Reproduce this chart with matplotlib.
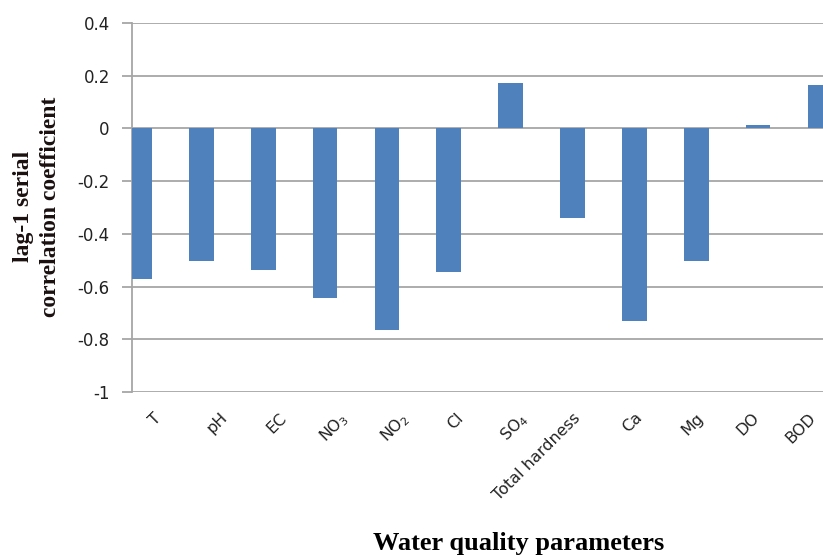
import numpy as np
import matplotlib.pyplot as plt
import matplotlib.transforms as mtransforms

params = ['T', 'pH', 'EC', 'NO$\\mathregular{_3}$', 'NO$\\mathregular{_2}$', 'Cl',
          'SO$\\mathregular{_4}$', 'Total hardness', 'Ca', 'Mg', 'DO', 'BOD']
lag1 = [-0.572, -0.504, -0.538, -0.645, -0.763, -0.544,
        0.173, -0.338, -0.731, -0.504, 0.014, 0.165]
yticks = [-1, -0.8, -0.6, -0.4, -0.2, 0, 0.2, 0.4]
ytick_labels = ['-1', '-0.8', '-0.6', '-0.4', '-0.2', '0', '0.2', '0.4']

fig = plt.figure(figsize=(8.23, 5.56), dpi=100)
ax = fig.add_axes([0.1604, 0.295, 0.8396, 0.6636])

x = np.arange(len(params))
ax.bar(x, lag1, width=0.4, color='#4F81BD', zorder=3)

ax.set_ylim(-1, 0.4)
ax.set_xlim(-0.12, 11.05)
ax.set_yticks(yticks)
ax.set_yticklabels(ytick_labels, fontsize=12, family='DejaVu Sans', color='#222222')
ax.yaxis.grid(True, color='#a6a6a6', linewidth=1.3, zorder=0)
ax.tick_params(axis='y', length=7, width=1.3, color='#a6a6a6', pad=9)

ax.set_xticks(x)
ax.set_xticklabels(params, rotation=45, ha='right', rotation_mode='anchor',
                   fontsize=11.5, family='DejaVu Sans', color='#222222')
ax.tick_params(axis='x', length=0, pad=13)
# small per-label nudges (pixels) so the rotated labels sit like the original
nudges = [14, 18, 16, 14, 13, 7, 8, 0, 0, 0, -7, -12]
for lab, dx in zip(ax.get_xticklabels(), nudges):
    shift = mtransforms.ScaledTranslation(dx / 100, 0, fig.dpi_scale_trans)
    lab.set_transform(lab.get_transform() + shift)

for s in ['top', 'right', 'bottom']:
    ax.spines[s].set_visible(False)
ax.spines['left'].set_color('#a6a6a6')
ax.spines['left'].set_linewidth(1.3)

fig.text(0.045, 0.628, 'lag-1 serial\ncorrelation coefficient', rotation=90,
         ha='center', va='center', family='Liberation Serif', fontweight='bold',
         fontsize=17, color='#1a1010', linespacing=1.4)
fig.text(0.63, 0.023, 'Water quality parameters', ha='center', va='center',
         family='Liberation Serif', fontweight='bold', fontsize=19)

fig.savefig('out.png', dpi=100)
